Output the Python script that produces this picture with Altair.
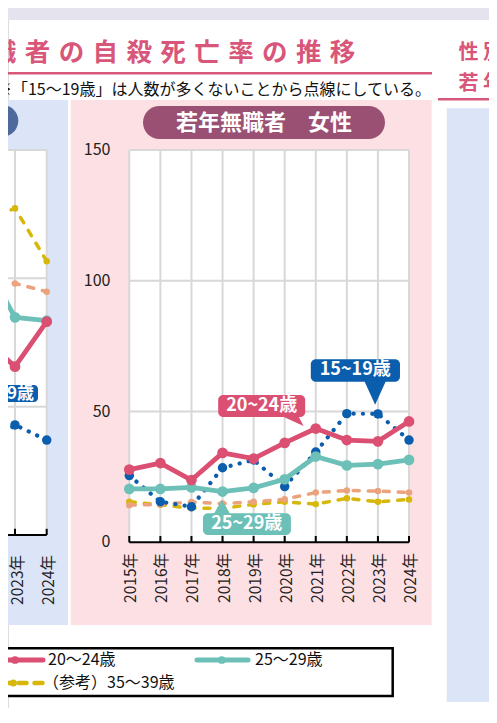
import altair as alt
import pandas as pd

FONT = "Noto Sans CJK JP"

# ---------------- data ----------------
years = [2015, 2016, 2017, 2018, 2019, 2020, 2021, 2022, 2023, 2024]
year_labels = ["2015年", "2016年", "2017年", "2018年", "2019年",
               "2020年", "2021年", "2022年", "2023年", "2024年"]

female_15_19 = [25.5, 15.5, 13.6, 28.5, 31.5, 21.3, 34.5, 49.2, 49.1, 39.1]
female_20_24 = [27.8, 30.3, 23.8, 34.2, 32.0, 38.0, 43.5, 39.1, 38.6, 46.2]
female_25_29 = [20.4, 20.4, 21.0, 19.4, 20.8, 24.1, 32.8, 29.4, 29.9, 31.5]
female_30_34 = [14.2, 14.5, 15.4, 14.8, 15.5, 16.5, 19.0, 19.8, 19.6, 19.0]
female_35_39 = [15.5, 14.4, 13.0, 13.0, 14.5, 15.5, 14.6, 16.8, 15.5, 16.4]

male_years = [2022, 2023, 2024]
male_year_labels = ["2022年", "2023年", "2024年"]
male_15_19 = [33.0, 42.9, 37.0]
male_20_24 = [76.8, 65.6, 83.1]
male_25_29 = [107.3, 84.8, 83.5]
male_30_34 = [98.0, 98.0, 94.8]
male_35_39 = [122.3, 127.3, 106.7]

y_ticks = [0, 50, 100, 150]
y_tick_labels = ["0", "50", "100", "150"]

title_chars = list("職者の自殺死亡率の推移")
side_rows = ["性別", "若年"]
subtitle = "※「15〜19歳」は人数が多くないことから点線にしている。"
panel_title = "若年無職者　女性"
legend_labels = ["20〜24歳", "25〜29歳", "（参考）35〜39歳"]
callout_labels = ["20~24歳", "15~19歳", "25~29歳"]

# ---------------- styles ----------------
PINK = "#DB4F72"
TEAL = "#6CC0B7"
BLUE = "#0B5DAD"
ORANGE = "#EBA37E"
YELLOW = "#D6B70A"
TITLE = "#D8567A"
GRID = "#D8D8D8"

W, H = 481, 700

MX = ([2015, 2024], [121.3, 401.0])
MY = ([0, 150], [534.3, 142.0])
LX = ([2023, 2024], [7.0, 38.7])
LY = ([0, 150], [527.0, 142.0])


def sc(s):
    return alt.Scale(domain=s[0], range=s[1], nice=False, zero=False)


one = pd.DataFrame({"k": [0]})


def rect(x, x2, y, y2, color, **kw):
    return alt.Chart(one).mark_rect(color=color, **kw).encode(
        x=alt.value(x), x2=alt.value(x2), y=alt.value(y), y2=alt.value(y2))


def hrule(x, x2, y, color, w, **kw):
    return alt.Chart(one).mark_rule(color=color, strokeWidth=w, **kw).encode(
        x=alt.value(x), x2=alt.value(x2), y=alt.value(y))


def text(x, y, t, size, color="#222", **kw):
    return alt.Chart(one).mark_text(text=t, fontSize=size, color=color, font=FONT, **kw).encode(
        x=alt.value(x), y=alt.value(y))


layers = []

# backgrounds
layers += [
    rect(0, W, 0, 12, "#E4E3EE"),
    rect(0, 60, 92, 617, "#DCE4F7"),
    rect(62.7, 423.7, 92, 617, "#FDE0E3"),
    rect(438.7, W, 100.3, 694, "#DCE4F7"),
]


def panel(xsc, ysc, yrs, xfirst):
    out = []
    pa = pd.DataFrame({"x0": [xfirst], "x1": [2024], "y0": [0], "y1": [150]})
    out.append(alt.Chart(pa).mark_rect(color="white").encode(
        x=alt.X("x0:Q", scale=sc(xsc), axis=None), x2="x1",
        y=alt.Y("y0:Q", scale=sc(ysc), axis=None), y2="y1"))
    vg = pd.DataFrame({"year": yrs, "lo": 0, "hi": 150})
    out.append(alt.Chart(vg).mark_rule(color=GRID, strokeWidth=2).encode(
        x=alt.X("year:Q", scale=sc(xsc), axis=None),
        y=alt.Y("lo:Q", scale=sc(ysc), axis=None), y2="hi"))
    hg = pd.DataFrame({"v": y_ticks[1:], "lo": xfirst, "hi": 2024})
    out.append(alt.Chart(hg).mark_rule(color=GRID, strokeWidth=2).encode(
        x=alt.X("lo:Q", scale=sc(xsc), axis=None), x2="hi",
        y=alt.Y("v:Q", scale=sc(ysc), axis=None)))
    base = pd.DataFrame({"lo": [xfirst], "hi": [2024], "v": [0]})
    out.append(alt.Chart(base).mark_rule(color="black", strokeWidth=2).encode(
        x=alt.X("lo:Q", scale=sc(xsc), axis=None), x2="hi",
        y=alt.Y("v:Q", scale=sc(ysc), axis=None)))
    tk = pd.DataFrame({"year": yrs, "lo": 0, "hi": 2.4})
    out.append(alt.Chart(tk).mark_rule(color="black", strokeWidth=2).encode(
        x=alt.X("year:Q", scale=sc(xsc), axis=None),
        y=alt.Y("lo:Q", scale=sc(ysc), axis=None), y2="hi"))
    return out


layers += panel(MX, MY, years, 2015)
layers += panel(LX, LY, male_years[1:], 2015)

# tick labels
xl = pd.DataFrame({"year": years, "lab": year_labels})
layers.append(alt.Chart(xl).mark_text(angle=270, align="right", baseline="middle", xOffset=2,
                                      fontSize=15.5, font=FONT, color="#222").encode(
    x=alt.X("year:Q", scale=sc(MX), axis=None), y=alt.value(545), text="lab:N"))
xll = pd.DataFrame({"year": male_years[1:], "lab": male_year_labels[1:]})
layers.append(alt.Chart(xll).mark_text(angle=270, align="right", baseline="middle", xOffset=2.5,
                                       fontSize=15.5, font=FONT, color="#222").encode(
    x=alt.X("year:Q", scale=sc(LX), axis=None), y=alt.value(547), text="lab:N"))
yl = pd.DataFrame({"v": y_ticks, "lab": y_tick_labels})
layers.append(alt.Chart(yl).mark_text(align="right", baseline="middle",
                                      fontSize=16, font=FONT, color="#222").encode(
    x=alt.value(102.5), y=alt.Y("v:Q", scale=sc(MY), axis=None), text="lab:N"))

# series
styles = [
    (YELLOW, 3.5, [6, 9], "round", 42),
    (ORANGE, 3.5, [6, 9], "round", 42),
    (BLUE, 4.2, [0.1, 9.2], "round", 90),
    (TEAL, 4.8, None, "round", 115),
    (PINK, 4.8, None, "round", 115),
]
female = [female_35_39, female_30_34, female_15_19, female_25_29, female_20_24]
male = [male_35_39, male_30_34, male_15_19, male_25_29, male_20_24]


def series(yrs, vals, xsc, ysc, st):
    color, w, dash, cap, ps = st
    df = pd.DataFrame({"year": yrs, "value": vals})
    b = alt.Chart(df).encode(x=alt.X("year:Q", scale=sc(xsc), axis=None),
                             y=alt.Y("value:Q", scale=sc(ysc), axis=None))
    kw = dict(color=color, strokeWidth=w, strokeCap=cap, strokeJoin="round")
    if dash:
        kw["strokeDash"] = dash
    return [b.mark_line(**kw), b.mark_circle(color=color, size=ps, opacity=1)]


for vals, st in zip(male, styles):
    layers += series(male_years, vals, LX, LY, st)
for vals, st in zip(female, styles):
    layers += series(years, vals, MX, MY, st)

# callouts (in data coordinates of the female panel)
boxes = pd.DataFrame({
    "x0": [2017.86, 2020.84, 2017.37], "x1": [2020.66, 2023.71, 2020.20],
    "y0": [47.9, 61.4, 2.8], "y1": [56.3, 70.0, 11.1],
    "tx": [2019.26, 2022.27, 2018.78], "ty": [52.1, 65.7, 6.9],
    "lab": callout_labels, "c": [PINK, BLUE, TEAL]})
layers.append(alt.Chart(boxes).mark_rect(cornerRadius=5).encode(
    x=alt.X("x0:Q", scale=sc(MX), axis=None), x2="x1",
    y=alt.Y("y0:Q", scale=sc(MY), axis=None), y2="y1",
    color=alt.Color("c:N", scale=None)))
pointers = [
    (2020.18, 46.2, 400, "M-1.3,-0.75 L0.7,-0.75 L1.33,0.45 Z", PINK),
    (2022.91, 57.0, 484, "M-1,-1.15 L1,-1.15 L0,1.05 Z", BLUE),
    (2017.98, 13.6, 324, "M-1,0.95 L1,0.95 L0,-0.75 Z", TEAL),
]
for px_, py_, s, shp, c in pointers:
    layers.append(alt.Chart(pd.DataFrame({"x": [px_], "y": [py_]})).mark_point(
        shape=shp, size=s, filled=True, opacity=1, color=c, strokeWidth=0).encode(
        x=alt.X("x:Q", scale=sc(MX), axis=None), y=alt.Y("y:Q", scale=sc(MY), axis=None)))
layers.append(alt.Chart(boxes).mark_text(fontSize=18, fontWeight="bold", font=FONT,
                                         color="white", baseline="middle").encode(
    x=alt.X("tx:Q", scale=sc(MX), axis=None), y=alt.Y("ty:Q", scale=sc(MY), axis=None),
    text="lab:N"))

# left panel callout (cropped)
layers.append(rect(-40, 30, 377, 394, BLUE, cornerRadius=4))
layers.append(text(26, 386, callout_labels[1], 17, "white", align="right",
                   baseline="middle", fontWeight="bold"))

# panel title pills
layers.append(rect(-238, 10.3, 97, 128.7, "#4E6A9C", cornerRadius=16))
layers.append(rect(135, 377, 98, 131, "#9A5073", cornerRadius=16.5))
layers.append(text(256, 115, panel_title, 22, "white", baseline="middle", fontWeight="bold"))

# heading
tc = pd.DataFrame({"i": list(range(len(title_chars))), "ch": title_chars})
layers.append(alt.Chart(tc).mark_text(fontSize=25.5, fontWeight="bold", font=FONT,
                                      color=TITLE, baseline="middle").encode(
    x=alt.X("i:Q", scale=alt.Scale(domain=[0, 10], range=[-4.4, 334.6]), axis=None),
    y=alt.value(44.5), text="ch:N"))
layers.append(hrule(0, 424, 65.3, TITLE, 2.5))
layers.append(text(423, 82, subtitle, 16, "#111", align="right", baseline="middle"))

sr = pd.DataFrame({"col": [0, 1, 0, 1], "row": [0, 0, 1, 1],
                   "ch": [side_rows[0][0], side_rows[0][1], side_rows[1][0], side_rows[1][1]]})
layers.append(alt.Chart(sr).mark_text(fontSize=20, fontWeight="bold", font=FONT,
                                      color=TITLE, baseline="middle").encode(
    x=alt.X("col:Q", scale=alt.Scale(domain=[0, 1], range=[460.5, 485]), axis=None),
    y=alt.Y("row:Q", scale=alt.Scale(domain=[0, 1], range=[44.5, 76]), axis=None),
    text="ch:N"))
layers.append(hrule(430, W, 91.3, TITLE, 2.5))

# legend
layers.append(rect(-10, 384.7, 640.3, 688, "white", stroke="black", strokeWidth=2.5))
layers.append(hrule(-8, 35, 652, PINK, 5, strokeCap="round"))
layers.append(alt.Chart(one).mark_circle(color=PINK, size=60, opacity=1).encode(
    x=alt.value(7), y=alt.value(652)))
layers.append(text(40, 652, legend_labels[0], 16, "#111", align="left", baseline="middle"))
layers.append(hrule(189, 240, 652, TEAL, 5, strokeCap="round"))
layers.append(alt.Chart(one).mark_circle(color=TEAL, size=60, opacity=1).encode(
    x=alt.value(213.7), y=alt.value(652)))
layers.append(text(247, 652, legend_labels[1], 16, "#111", align="left", baseline="middle"))
layers.append(hrule(-5.5, 36, 675, YELLOW, 4.5, strokeCap="round", strokeDash=[8, 8]))
layers.append(alt.Chart(one).mark_circle(color=YELLOW, size=50, opacity=1).encode(
    x=alt.value(5.3), y=alt.value(675)))
layers.append(text(35, 675, legend_labels[2], 16, "#111", align="left", baseline="middle"))

chart = alt.layer(*layers).resolve_scale(x="independent", y="independent").properties(
    width=W, height=H, padding=0, autosize=alt.AutoSizeParams(type="none")
).configure_view(stroke=None).configure(background="white", font=FONT)

chart.save("out.html", embed_options={"renderer": "svg", "actions": False})
